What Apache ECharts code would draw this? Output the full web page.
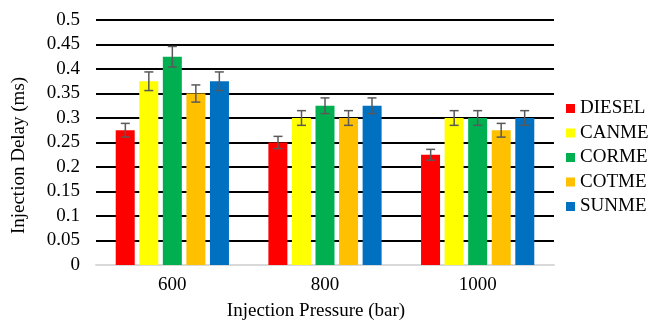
<!DOCTYPE html>
<html><head><meta charset="utf-8">
<script src="https://cdn.jsdelivr.net/npm/echarts@6/dist/echarts.min.js"></script>
<style>html,body{margin:0;padding:0;background:#fff}#c{width:649px;height:322px}</style>
</head><body><div id="c"></div>
<script>
const categories = ['600', '800', '1000'];
const seriesNames = ['DIESEL', 'CANME', 'CORME', 'COTME', 'SUNME'];
const colors = ['#ff0000', '#ffff00', '#00b050', '#ffc000', '#0070c0'];
const DIESEL = [0.275, 0.25, 0.225];
const CANME = [0.375, 0.3, 0.3];
const CORME = [0.425, 0.325, 0.3];
const COTME = [0.35, 0.3, 0.275];
const SUNME = [0.375, 0.325, 0.3];
const errDIESEL = [0.014, 0.0125, 0.011];
const errCANME = [0.019, 0.015, 0.015];
const errCORME = [0.021, 0.016, 0.015];
const errCOTME = [0.0175, 0.015, 0.014];
const errSUNME = [0.019, 0.016, 0.015];
const yTicks = ['0', '0.05', '0.1', '0.15', '0.2', '0.25', '0.3', '0.35', '0.4', '0.45', '0.5'];

const values = [DIESEL, CANME, CORME, COTME, SUNME];
const errs = [errDIESEL, errCANME, errCORME, errCOTME, errSUNME];
const font = 'Liberation Serif, Times New Roman, serif';
const barWidth = 19, gapPx = 4.5;
const nS = 5;
const FS = 19;

const series = [];
values.forEach((v, i) => {
  series.push({
    name: seriesNames[i], type: 'bar', data: v, barWidth: barWidth, barGap: '24%',
    itemStyle: { color: colors[i] }, z: 2
  });
});
values.forEach((v, i) => {
  series.push({
    type: 'custom', name: 'err' + i, z: 5, silent: true,
    data: v.map((val, k) => [k, val, errs[i][k]]),
    renderItem: function (params, api) {
      const k = api.value(0), val = api.value(1), e = api.value(2);
      const center = api.coord([k, val]);
      const offset = (i - (nS - 1) / 2) * (barWidth + gapPx);
      const x = center[0] + offset;
      const yTop = api.coord([k, val + e])[1];
      const yBot = api.coord([k, val - e])[1];
      const cap = 4.5;
      const st = { stroke: '#595959', lineWidth: 1.5 };
      return { type: 'group', children: [
        { type: 'line', shape: { x1: x, y1: yTop, x2: x, y2: yBot }, style: st },
        { type: 'line', shape: { x1: x - cap, y1: yTop, x2: x + cap, y2: yTop }, style: st },
        { type: 'line', shape: { x1: x - cap, y1: yBot, x2: x + cap, y2: yBot }, style: st }
      ]};
    }
  });
});

const chart = echarts.init(document.getElementById('c'), null, { renderer: 'canvas' });
chart.setOption({
  animation: false,
  backgroundColor: '#fff',
  textStyle: { fontFamily: font },
  grid: { left: 96, right: 95, top: 20, bottom: 57, containLabel: false, outerBoundsMode: 'none' },
  legend: {
    orient: 'vertical', left: 566, top: 99, itemWidth: 9, itemHeight: 9, itemGap: 5.5,
    icon: 'rect', data: seriesNames, padding: 0,
    textStyle: { fontFamily: font, fontSize: FS, color: '#000', padding: [0, 0, 0, 0] }
  },
  xAxis: {
    type: 'category', data: categories,
    name: 'Injection Pressure (bar)', nameLocation: 'middle', nameGap: 36.5,
    nameTextStyle: { fontFamily: font, fontSize: FS, color: '#000', padding: [0, 18, 0, 0] },
    axisLine: { lineStyle: { color: '#d9d9d9', width: 2 } },
    axisTick: { show: false },
    axisLabel: { fontFamily: font, fontSize: FS, color: '#000', margin: 11 }
  },
  yAxis: {
    type: 'value', min: 0, max: 0.5, interval: 0.05,
    name: 'Injection Delay (ms)', nameLocation: 'middle', nameGap: 67, nameRotate: 90,
    nameTextStyle: { fontFamily: font, fontSize: FS, color: '#000', padding: [0, 26, 0, 0] },
    axisLine: { show: false }, axisTick: { show: false },
    axisLabel: { fontFamily: font, fontSize: FS, color: '#000', margin: 16,
      formatter: function (v) { return yTicks[Math.round(v / 0.05)]; } },
    splitLine: { lineStyle: { color: '#000', width: 2 } }
  },
  series: series
});
</script></body></html>
